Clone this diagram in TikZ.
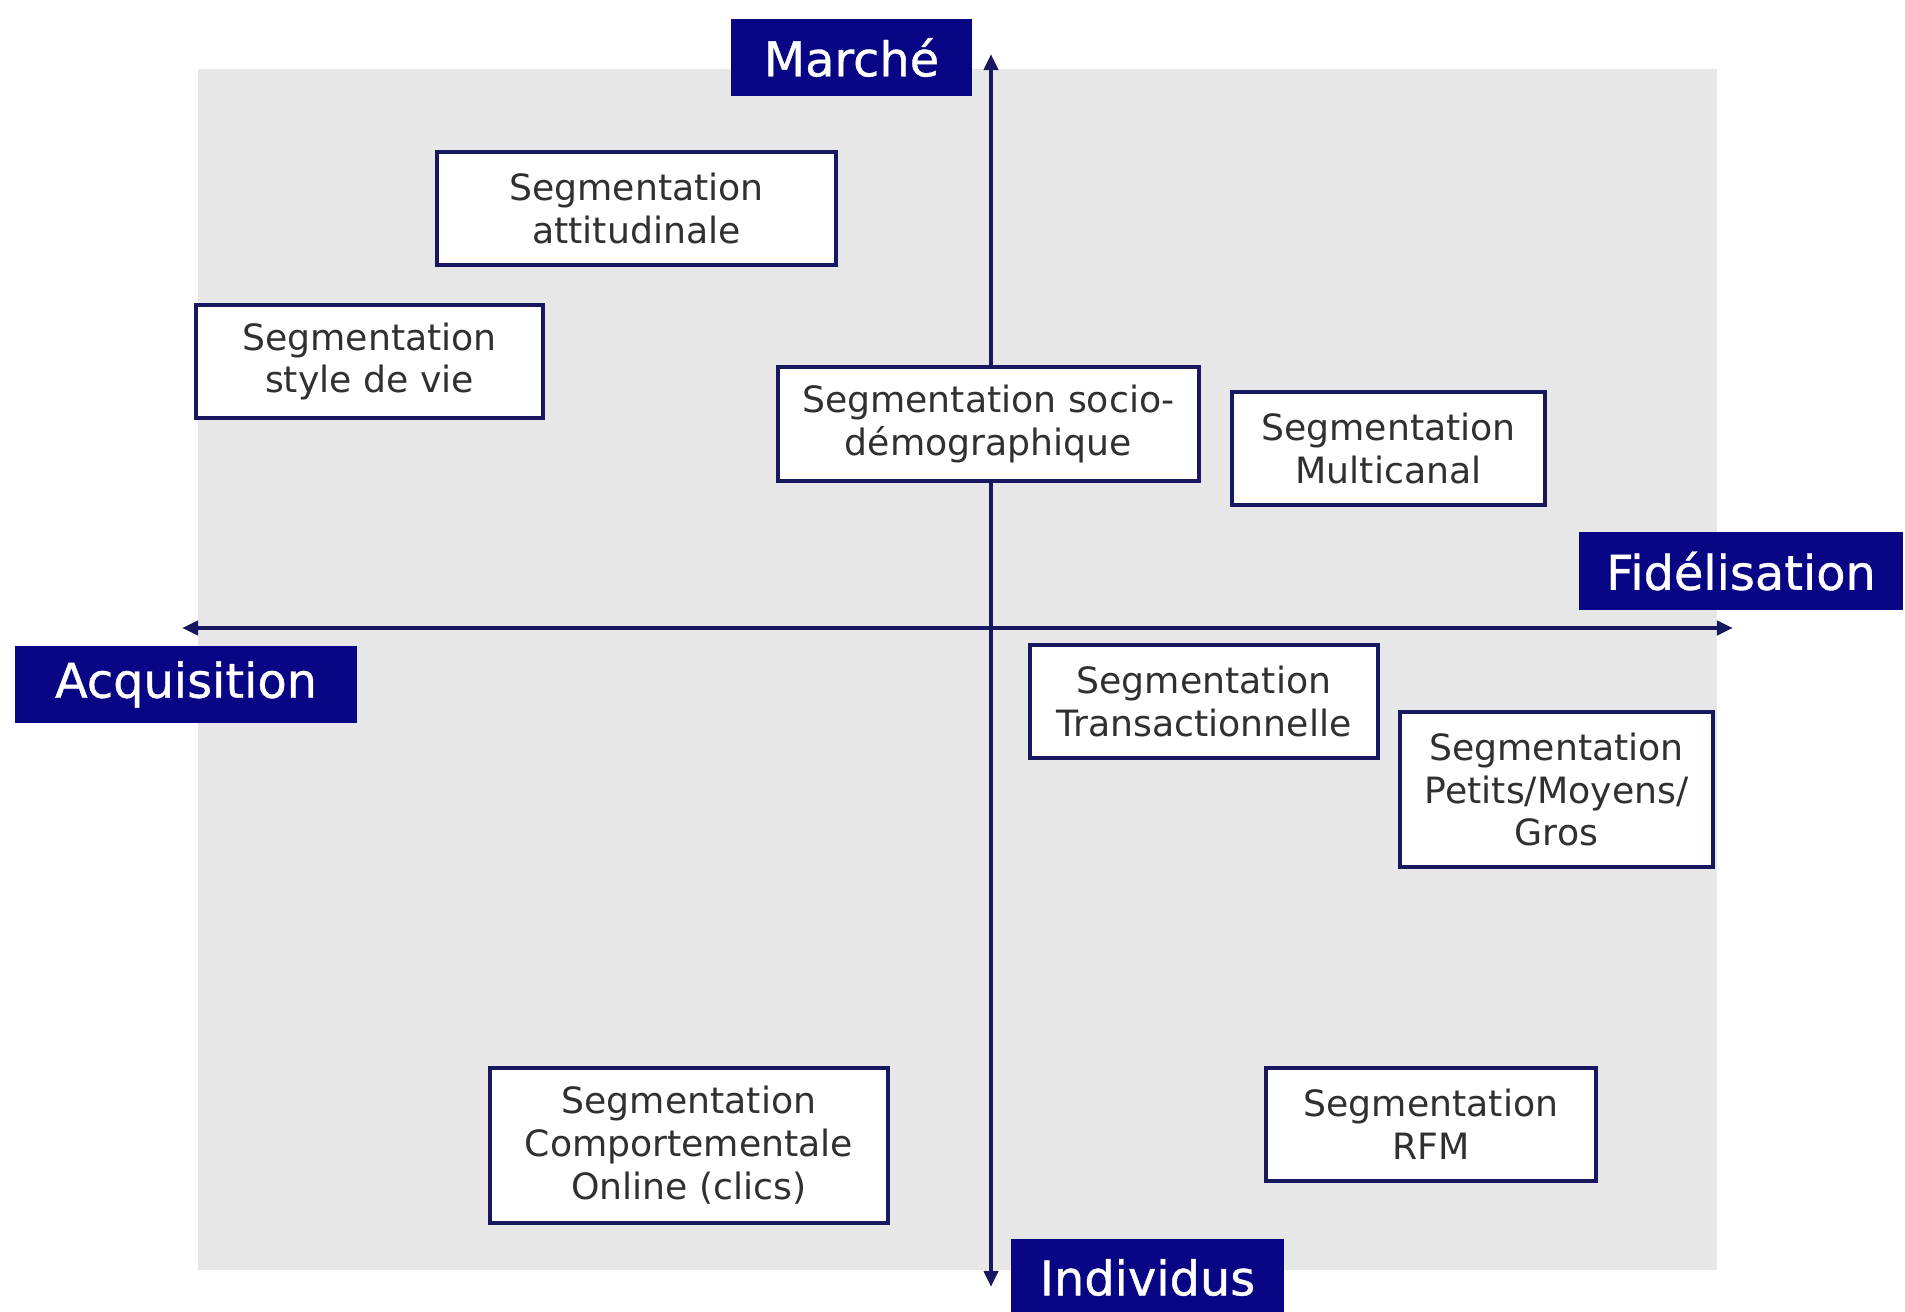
\documentclass[tikz,border=0pt]{standalone}
\usepackage{fontspec}
\setmainfont{DejaVu Sans}
\newfontfamily\etiquettefont[FakeBold=0.8]{DejaVu Sans}
\usepackage{tikz}
\usetikzlibrary{arrows.meta, positioning}

\definecolor{fondgris}{RGB}{231,231,231}
\definecolor{bleunuit}{RGB}{8,6,132}
\definecolor{traitaxe}{RGB}{24,24,96}
\definecolor{textegris}{RGB}{48,48,48}

\tikzset{
  segbox/.style={draw=traitaxe, line width=1.1pt, fill=white, align=center,
    text=textegris, font=\fontsize{10.3}{12.2}\selectfont, inner sep=0pt},
  axelabel/.style={fill=bleunuit, text=white, align=center, inner sep=0pt,
    font=\etiquettefont\fontsize{13.6}{16}\selectfont},
  axe/.style={draw=traitaxe, line width=1.2pt, {Triangle[length=4.6pt,width=4pt]}-{Triangle[length=4.6pt,width=4pt]}}
}

\begin{document}
\begin{tikzpicture}[x=0.01cm, y=-0.01cm]
        \useasboundingbox (0,0) rectangle (1905,1312);

        % Fond
        \fill[fondgris] (198,69) rectangle (1717,1270);

        % Axes
        \coordinate (haut) at (991,54);
        \coordinate (bas) at (991,1287);
        \coordinate (gauche) at (182,628);
        \coordinate (droite) at (1733,628);
        \draw[axe] (bas) -- (haut);
        \draw[axe] (gauche) -- (droite);

        % Etiquettes des axes
        \node[axelabel, minimum width=2.41cm, minimum height=0.77cm] (marche) at (851.5,57.5) {Marché};
        \node[axelabel, minimum width=3.42cm, minimum height=0.77cm] (acquisition) at (186,684.5) {Acquisition};
        \node[axelabel, minimum width=3.24cm, minimum height=0.78cm] (fidelisation) at (1741,571) {Fidélisation};
        \node[axelabel, minimum width=2.73cm, minimum height=0.77cm] (individus) at (1147.5,1277.5) {Individus};

        % Segmentations
        \node[segbox, minimum width=3.99cm, minimum height=1.13cm] (attitude) at (636.5,208.5) {Segmentation\\attitudinale};
        \node[segbox, minimum width=3.47cm, minimum height=1.13cm] (style) at (369.5,361.5) {Segmentation\\style de vie};
        \node[segbox, minimum width=4.21cm, minimum height=1.14cm] (socio) at (988.5,424) {Segmentation socio-\\démographique};
        \node[segbox, minimum width=3.13cm, minimum height=1.13cm] (multicanal) at (1388.5,448.5) {Segmentation\\Multicanal};
        \node[segbox, minimum width=3.48cm, minimum height=1.13cm] (transaction) at (1204,701.5) {Segmentation\\Transactionnelle};
        \node[segbox, minimum width=3.13cm, minimum height=1.55cm] (taille) at (1556.5,789.5) {Segmentation\\Petits/Moyens/\\Gros};
        \node[segbox, minimum width=3.98cm, minimum height=1.55cm] (online) at (689,1145.5) {Segmentation\\Comportementale\\Online (clics)};
        \node[segbox, minimum width=3.30cm, minimum height=1.13cm] (rfm) at (1431,1124.5) {Segmentation\\RFM};
\end{tikzpicture}
\end{document}
